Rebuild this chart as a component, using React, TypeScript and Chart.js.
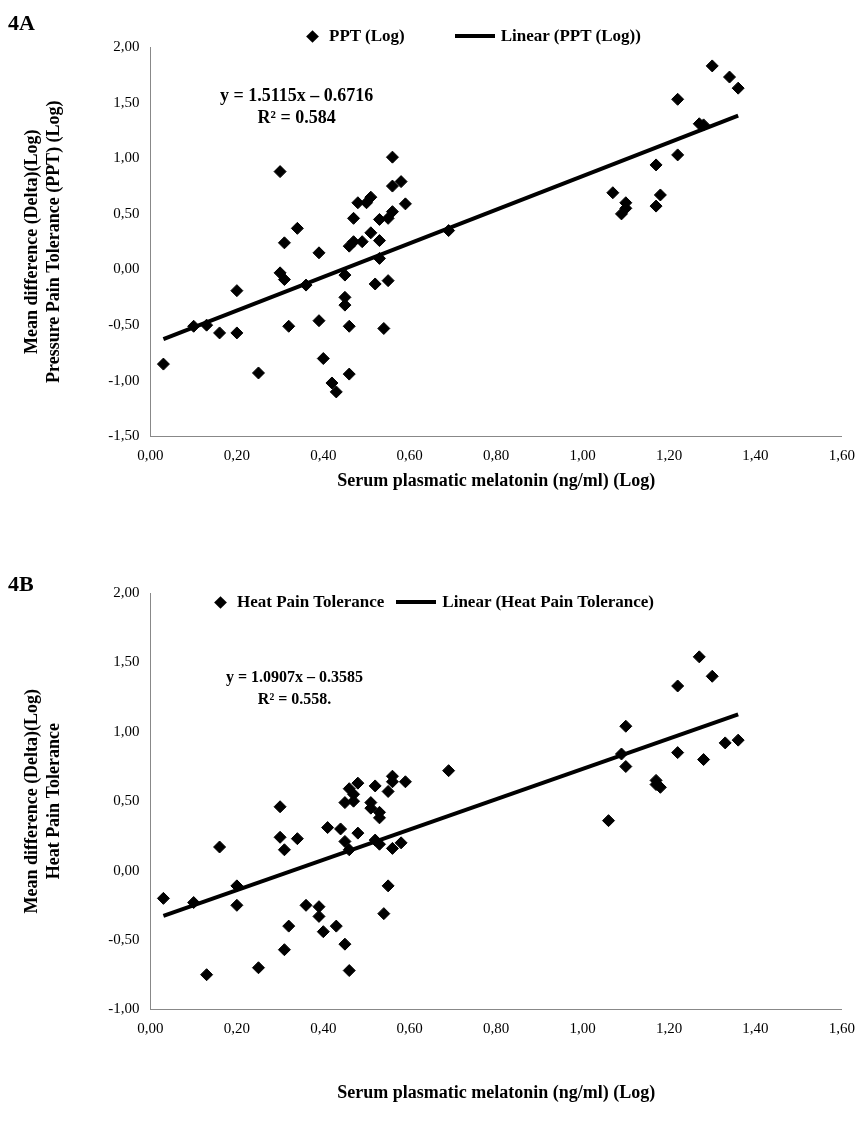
import React, { useEffect, useRef } from "react";
import { Chart, registerables } from "chart.js";
Chart.register(...registerables);

const ptA: [number, number][] = [[0.03,-0.85],[0.10,-0.51],[0.13,-0.50],[0.16,-0.57],[0.20,-0.57],[0.20,-0.19],[0.25,-0.93],[0.30,0.88],[0.30,-0.03],[0.31,0.24],[0.31,-0.09],[0.32,-0.51],[0.34,0.37],[0.36,-0.14],[0.39,0.15],[0.39,-0.46],[0.40,-0.80],[0.42,-1.02],[0.43,-1.10],[0.45,-0.05],[0.45,-0.25],[0.45,-0.32],[0.46,0.21],[0.46,-0.51],[0.46,-0.94],[0.47,0.46],[0.47,0.25],[0.48,0.60],[0.49,0.25],[0.50,0.60],[0.51,0.65],[0.51,0.33],[0.52,-0.13],[0.53,0.45],[0.53,0.26],[0.53,0.10],[0.54,-0.53],[0.55,0.46],[0.55,-0.10],[0.56,1.01],[0.56,0.75],[0.56,0.52],[0.58,0.79],[0.59,0.59],[0.69,0.35],[1.07,0.69],[1.09,0.50],[1.10,0.60],[1.10,0.55],[1.17,0.94],[1.17,0.57],[1.18,0.67],[1.22,1.53],[1.22,1.03],[1.27,1.31],[1.28,1.30],[1.30,1.83],[1.34,1.73],[1.36,1.63]];
const ptB: [number, number][] = [[0.03,-0.20],[0.10,-0.23],[0.13,-0.75],[0.16,0.17],[0.20,-0.11],[0.20,-0.25],[0.25,-0.70],[0.30,0.46],[0.30,0.24],[0.31,0.15],[0.31,-0.57],[0.32,-0.40],[0.34,0.23],[0.36,-0.25],[0.39,-0.26],[0.39,-0.33],[0.40,-0.44],[0.41,0.31],[0.43,-0.40],[0.44,0.30],[0.45,0.49],[0.45,0.21],[0.45,-0.53],[0.46,0.59],[0.46,0.15],[0.46,-0.72],[0.47,0.50],[0.47,0.55],[0.48,0.63],[0.48,0.27],[0.51,0.49],[0.51,0.45],[0.52,0.61],[0.52,0.22],[0.53,0.42],[0.53,0.38],[0.53,0.19],[0.54,-0.31],[0.55,0.57],[0.55,-0.11],[0.56,0.68],[0.56,0.64],[0.56,0.16],[0.58,0.20],[0.59,0.64],[0.69,0.72],[1.06,0.36],[1.09,0.84],[1.10,1.04],[1.10,0.75],[1.17,0.65],[1.17,0.62],[1.18,0.60],[1.22,1.33],[1.22,0.85],[1.27,1.54],[1.28,0.80],[1.30,1.40],[1.33,0.92],[1.36,0.94]];
const trendA = { slope: 1.5115, icpt: -0.6716, from: 0.03, to: 1.36 };
const trendB = { slope: 1.0907, icpt: -0.3585, from: 0.03, to: 1.36 };

const FONT = "'Liberation Serif', 'Times New Roman', serif";
const fmt = (v: number) => v.toFixed(2).replace(".", ",");

function Panel(props: { pts: [number, number][]; trend: any; labels: string[]; ytitle: string[]; ymin: number; ymax: number; height: number; padTop: number; xtitlePad: number; ytitlePad: number }) {
  const ref = useRef<HTMLCanvasElement>(null);
  useEffect(() => {
    const t = props.trend;
    const c = new Chart(ref.current!, {
      type: "scatter",
      data: {
        datasets: [
          { label: props.labels[0], data: props.pts.map(([x, y]) => ({ x, y })), pointStyle: "rectRot", pointRadius: 6, backgroundColor: "#000", borderColor: "#000", showLine: false },
          { label: props.labels[1], data: [{ x: t.from, y: t.slope * t.from + t.icpt }, { x: t.to, y: t.slope * t.to + t.icpt }], showLine: true, borderColor: "#000", borderWidth: 4, pointRadius: 0, backgroundColor: "#000" },
        ],
      },
      options: {
        animation: false, responsive: false,
        layout: { padding: { right: 12, left: 14, top: props.padTop } },
        plugins: { legend: { display: false }, tooltip: { enabled: false } },
        scales: {
          x: { type: "linear", min: 0, max: 1.6, ticks: { stepSize: 0.2, color: "#000", font: { family: FONT, size: 15 }, callback: (v: any) => fmt(+v) }, grid: { display: false, tickColor: "#888" } as any, border: { color: "#888" },
            title: { display: true, text: "Serum plasmatic melatonin (ng/ml) (Log)", color: "#000", font: { family: FONT, size: 18, weight: "bold" }, padding: { top: props.xtitlePad } } },
          y: { min: props.ymin, max: props.ymax, ticks: { stepSize: 0.5, color: "#000", font: { family: FONT, size: 15 }, callback: (v: any) => fmt(+v) }, grid: { display: false, tickColor: "#888" } as any, border: { color: "#888" },
            title: { display: true, text: props.ytitle, color: "#000", font: { family: FONT, size: 18, weight: "bold" }, padding: { top: 0, bottom: props.ytitlePad } } },
        },
      },
    });
    return () => c.destroy();
  }, []);
  return <canvas ref={ref} width={850} height={props.height} style={{ display: "block" }} />;
}

function Legend(props: { labels: string[]; top: number; left: number; gap: number }) {
  const s: React.CSSProperties = { fontFamily: FONT, fontWeight: "bold", fontSize: 17, color: "#000", display: "flex", alignItems: "center" };
  return (
    <div style={{ position: "absolute", top: props.top, left: props.left, display: "flex", gap: props.gap }}>
      <div style={s}><span style={{ display: "inline-block", width: 9, height: 9, background: "#000", transform: "rotate(45deg)", marginRight: 12 }} />{props.labels[0]}</div>
      <div style={s}><span style={{ display: "inline-block", width: 40, height: 4, background: "#000", marginRight: 6 }} />{props.labels[1]}</div>
    </div>
  );
}

export default function App() {
  const lab: React.CSSProperties = { position: "absolute", fontFamily: FONT, fontWeight: "bold", color: "#000" };
  const la = ["PPT (Log)", "Linear (PPT (Log))"];
  const lb = ["Heat Pain Tolerance", "Linear (Heat Pain Tolerance)"];
  return (
    <div style={{ position: "relative", width: 850, height: 1110, background: "#fff" }}>
      <div style={{ position: "absolute", top: 0, left: 0 }}>
        <Panel pts={ptA} trend={trendA} labels={la} ytitle={["Mean difference (Delta)(Log)", "Pressure Pain Tolerance (PPT) (Log)"]} ymin={-1.5} ymax={2} height={488} padTop={39} xtitlePad={2} ytitlePad={40} />
      </div>
      <div style={{ position: "absolute", top: 555, left: 0 }}>
        <Panel pts={ptB} trend={trendB} labels={lb} ytitle={["Mean difference (Delta)(Log)", "Heat Pain Tolerance"]} ymin={-1} ymax={2} height={545} padTop={30} xtitlePad={41} ytitlePad={40} />
      </div>
      <Legend labels={la} top={18} left={300} gap={50} />
      <Legend labels={lb} top={584} left={208} gap={12} />
      <div style={{ ...lab, top: 2, left: 0, fontSize: 22 }}>4A</div>
      <div style={{ ...lab, top: 563, left: 0, fontSize: 22 }}>4B</div>
      <div style={{ ...lab, top: 76, left: 212, fontSize: 18, textAlign: "center", lineHeight: "22px" }}>y = 1.5115x – 0.6716<br />R² = 0.584</div>
      <div style={{ ...lab, top: 658, left: 218, fontSize: 16, textAlign: "center", lineHeight: "22px" }}>y = 1.0907x – 0.3585<br />R² = 0.558.</div>
    </div>
  );
}
